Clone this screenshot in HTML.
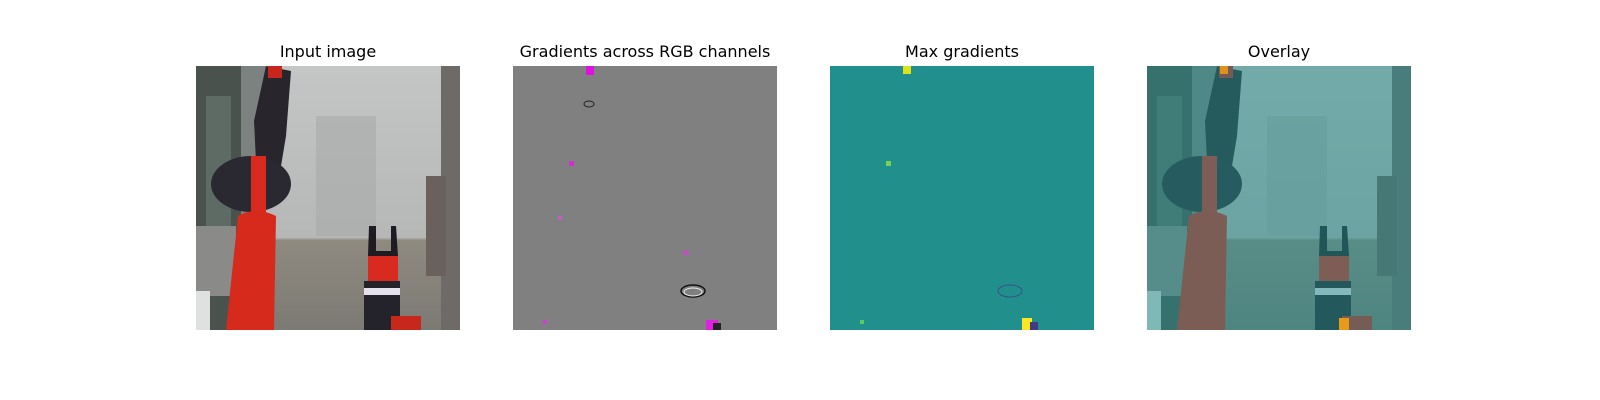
<!DOCTYPE html>
<html><head><meta charset="utf-8"><style>
body{margin:0;background:#fff;width:1600px;height:400px;overflow:hidden;font-family:"DejaVu Sans","Liberation Sans",sans-serif}
.t{position:absolute;font-size:16px;color:#000;text-align:center;width:300px;top:42px}
svg.p{position:absolute;top:66px}
</style></head><body>
<svg width="0" height="0" style="position:absolute">
<defs>
<linearGradient id="bg" x1="0" y1="0" x2="0" y2="1"><stop offset="0" stop-color="#c4c6c6"/><stop offset="0.65" stop-color="#b6b8b8"/><stop offset="0.66" stop-color="#8f8a80"/><stop offset="1" stop-color="#7c7a74"/></linearGradient>
<g id="scene">
<rect width="264" height="264" fill="url(#bg)"/>
<rect x="0" y="0" width="45" height="264" fill="#4a524e"/>
<rect x="10" y="30" width="25" height="140" fill="#5e6a64"/>
<rect x="45" y="0" width="25" height="160" fill="#7c8280"/>
<rect x="245" y="0" width="19" height="264" fill="#6e6a68"/>
<rect x="230" y="110" width="20" height="100" fill="#6a605c"/>
<rect x="120" y="50" width="60" height="120" fill="#a8aaaa" opacity="0.6"/>
<rect x="0" y="160" width="40" height="70" fill="#8a8a88"/>
<rect x="0" y="225" width="14" height="39" fill="#dfe0e0"/>
<path d="M70 0 L95 5 L90 70 L85 100 L60 95 L58 55 Z" fill="#28262c"/>
<ellipse cx="55" cy="118" rx="40" ry="28" fill="#2a2830"/>
<rect x="55" y="90" width="15" height="65" fill="#d82a1e"/>
<path d="M42 150 Q60 140 80 150 L78 264 L30 264 Z" fill="#d62a1c"/>
<rect x="72" y="0" width="14" height="12" fill="#c8261c"/>
<path d="M173 160 L180 160 L180 185 L195 185 L195 160 L200 160 L202 190 L172 190 Z" fill="#1e1c22"/>
<rect x="172" y="190" width="30" height="28" fill="#d82a1e"/>
<rect x="168" y="215" width="36" height="49" fill="#24222a"/>
<rect x="168" y="222" width="36" height="7" fill="#e4e0ec"/>
<rect x="195" y="250" width="30" height="14" fill="#c8281c"/>
</g>
</defs>
</svg>

<div class="t" style="left:178px">Input image</div>
<svg class="p" style="left:196px" width="264" height="264"><use href="#scene"/></svg>

<div class="t" style="left:495px">Gradients across RGB channels</div>
<svg class="p" style="left:513px" width="264" height="264">
<rect width="264" height="264" fill="#808080"/>
<rect x="73" y="0" width="8" height="9" fill="#e010e0"/>
<ellipse cx="76" cy="38" rx="5" ry="3" fill="none" stroke="#222" stroke-width="1"/>
<rect x="56" y="95" width="5" height="5" fill="#d030d0"/>
<rect x="45" y="150" width="4" height="4" fill="#c060c0"/>
<rect x="170" y="185" width="6" height="4" fill="#c050c0"/>
<ellipse cx="180" cy="225" rx="12" ry="6" fill="none" stroke="#111" stroke-width="1.5"/>
<ellipse cx="180" cy="226" rx="9" ry="4" fill="none" stroke="#eee" stroke-width="1"/>
<rect x="193" y="254" width="12" height="10" fill="#e020e0"/>
<rect x="200" y="257" width="8" height="7" fill="#222"/>
<rect x="30" y="254" width="4" height="4" fill="#d040d0"/>
</svg>

<div class="t" style="left:812px">Max gradients</div>
<svg class="p" style="left:830px" width="264" height="264">
<rect width="264" height="264" fill="#21908d"/>
<rect x="73" y="0" width="8" height="8" fill="#dde318"/>
<rect x="56" y="95" width="5" height="5" fill="#7ad151"/>
<ellipse cx="180" cy="225" rx="12" ry="6" fill="none" stroke="#3b528b" stroke-width="1"/>
<rect x="192" y="252" width="10" height="12" fill="#fde725"/>
<rect x="200" y="256" width="8" height="8" fill="#443a83"/>
<rect x="30" y="254" width="4" height="4" fill="#5ec962"/>
</svg>

<div class="t" style="left:1129px">Overlay</div>
<svg class="p" style="left:1147px" width="264" height="264">
<use href="#scene"/>
<rect width="264" height="264" fill="#21908d" opacity="0.5"/>
<rect x="73" y="0" width="8" height="8" fill="#e0901c"/>
<rect x="192" y="252" width="10" height="12" fill="#e89a18"/>
</svg>
</body></html>
